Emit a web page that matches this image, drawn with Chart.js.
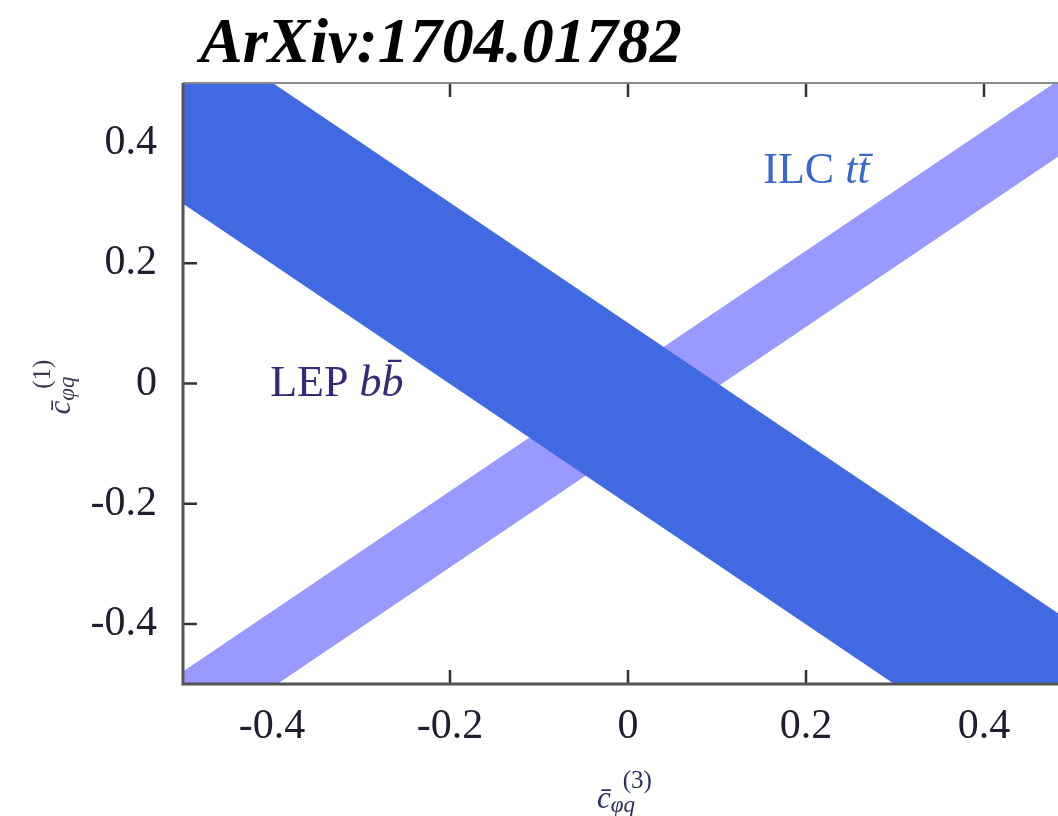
<!DOCTYPE html>
<html>
<head>
<meta charset="utf-8">
<script src="https://cdn.jsdelivr.net/npm/chart.js@4"></script>
<style>
  html, body { margin: 0; padding: 0; background: #fff; overflow: hidden; }
  #wrap { position: absolute; left: 0; top: 0; width: 1090px; height: 816px; }
</style>
</head>
<body>
<div id="wrap"><canvas id="chart" width="1090" height="816"></canvas></div>
<script>
// band edges at x = -0.5 and x = 0.5
const X_ENDS = [-0.5, 0.5];
const LEP_UPPER = [0.6, -0.4];
const LEP_LOWER = [0.3, -0.7];
const ILC_UPPER = [-0.48, 0.52];
const ILC_LOWER = [-0.605, 0.395];

const X_TICKS = [-0.4, -0.2, 0, 0.2, 0.4];
const X_TICK_LABELS = ['-0.4', '-0.2', '0', '0.2', '0.4'];
const Y_TICKS = [-0.4, -0.2, 0, 0.2, 0.4];
const Y_TICK_LABELS = ['-0.4', '-0.2', '0', '0.2', '0.4'];

const LEP_COLOR = '#4169e1';
const ILC_COLOR = '#9999ff';
const SERIF = '"Liberation Serif", "Times New Roman", serif';

function edge(ys) {
  return X_ENDS.map((x, i) => ({ x: x, y: ys[i] }));
}

function drawParts(ctx, x, y, parts) {
  ctx.textAlign = 'left';
  ctx.textBaseline = 'alphabetic';
  for (const p of parts) {
    ctx.font = p.font;
    ctx.fillStyle = p.color;
    ctx.fillText(p.text, x, y);
    x += ctx.measureText(p.text).width;
  }
}

// c-bar with sub phi q and a superscript, centred on cx
function drawCoeff(ctx, cx, base, sup, color) {
  ctx.textAlign = 'left';
  ctx.textBaseline = 'alphabetic';
  ctx.fillStyle = color;
  ctx.font = 'italic 31px ' + SERIF;
  const cW = ctx.measureText('c').width;
  ctx.font = 'italic 23px ' + SERIF;
  const subW = ctx.measureText('φq').width;
  const left = cx - (cW + subW) / 2;
  ctx.font = 'italic 31px ' + SERIF;
  ctx.fillText('c\u0304', left, base);
  ctx.font = '25px ' + SERIF;
  ctx.fillText(sup, left + cW + 12, base - 20);
  ctx.font = 'italic 23px ' + SERIF;
  ctx.fillText('φq', left + cW, base + 4);
}

const decorations = {
  id: 'decorations',
  beforeDatasetsDraw(chart) {
    // inward tick marks, hidden under the bands
    const { ctx, chartArea: a, scales } = chart;
    ctx.save();
    ctx.strokeStyle = '#333';
    ctx.lineWidth = 2.5;
    ctx.beginPath();
    for (const v of X_TICKS) {
      const px = scales.x.getPixelForValue(v);
      ctx.moveTo(px, a.bottom); ctx.lineTo(px, a.bottom - 14);
      ctx.moveTo(px, a.top); ctx.lineTo(px, a.top + 14);
    }
    for (const v of Y_TICKS) {
      const py = scales.y.getPixelForValue(v);
      ctx.moveTo(a.left, py); ctx.lineTo(a.left + 14, py);
      ctx.moveTo(a.right, py); ctx.lineTo(a.right - 14, py);
    }
    ctx.stroke();
    ctx.restore();
  },
  afterDatasetsDraw(chart) {
    const { ctx, chartArea: a, scales } = chart;
    ctx.save();
    // frame
    ctx.strokeStyle = '#8a8a8a';
    ctx.lineWidth = 2;
    ctx.beginPath();
    ctx.moveTo(a.left, a.top); ctx.lineTo(a.right, a.top); ctx.lineTo(a.right, a.bottom);
    ctx.stroke();
    ctx.strokeStyle = '#555';
    ctx.lineWidth = 3;
    ctx.beginPath();
    ctx.moveTo(a.left, a.top); ctx.lineTo(a.left, a.bottom); ctx.lineTo(a.right, a.bottom);
    ctx.stroke();

    // band labels
    drawParts(ctx, scales.x.getPixelForValue(-0.402), scales.y.getPixelForValue(-0.02), [
      { text: 'LEP ', font: '44px ' + SERIF, color: '#35297a' },
      { text: 'bb\u0304', font: 'italic 44px ' + SERIF, color: '#35297a' }
    ]);
    drawParts(ctx, scales.x.getPixelForValue(0.152), scales.y.getPixelForValue(0.333), [
      { text: 'ILC ', font: '44px ' + SERIF, color: '#3a68cc' },
      { text: 'tt\u0304', font: 'italic 44px ' + SERIF, color: '#3a68cc' }
    ]);

    // axis titles
    drawCoeff(ctx, scales.x.getPixelForValue(0) - 12, 808, '(3)', '#2b2f5c');
    ctx.translate(70, scales.y.getPixelForValue(0));
    ctx.rotate(-Math.PI / 2);
    drawCoeff(ctx, -12, 0, '(1)', '#3a3a52');
    ctx.restore();

    // header
    ctx.save();
    ctx.font = 'bold italic 64px ' + SERIF;
    ctx.fillStyle = '#000';
    ctx.textAlign = 'left';
    ctx.textBaseline = 'alphabetic';
    ctx.fillText('ArXiv:1704.01782', 200, 62);
    ctx.restore();
  }
};

const tickFont = { family: SERIF, size: 42 };

new Chart(document.getElementById('chart'), {
  type: 'line',
  data: {
    datasets: [
      { label: 'LEP upper', data: edge(LEP_UPPER), borderColor: LEP_COLOR, borderWidth: 1, pointRadius: 0, fill: false },
      { label: 'LEP b bbar', data: edge(LEP_LOWER), borderColor: LEP_COLOR, borderWidth: 1, pointRadius: 0,
        backgroundColor: LEP_COLOR, fill: '-1' },
      { label: 'ILC upper', data: edge(ILC_UPPER), borderColor: ILC_COLOR, borderWidth: 1, pointRadius: 0, fill: false },
      { label: 'ILC t tbar', data: edge(ILC_LOWER), borderColor: ILC_COLOR, borderWidth: 1, pointRadius: 0,
        backgroundColor: ILC_COLOR, fill: '-1' }
    ]
  },
  options: {
    responsive: false,
    animation: false,
    layout: { padding: { left: 0, top: 83, right: 17, bottom: 0 } },
    plugins: {
      legend: { display: false },
      tooltip: { enabled: false },
      title: { display: false }
    },
    scales: {
      x: {
        type: 'linear',
        min: -0.5,
        max: 0.5,
        grid: { display: false, drawTicks: false },
        border: { display: false },
        afterBuildTicks: (scale) => { scale.ticks = X_TICKS.map(v => ({ value: v })); },
        afterFit: (scale) => { scale.height = 132; },
        ticks: {
          font: tickFont,
          color: '#1e1e2e',
          padding: 18,
          maxRotation: 0,
          callback: (value, index) => X_TICK_LABELS[index]
        }
      },
      y: {
        type: 'linear',
        min: -0.5,
        max: 0.5,
        grid: { display: false, drawTicks: false },
        border: { display: false },
        afterBuildTicks: (scale) => { scale.ticks = Y_TICKS.map(v => ({ value: v })); },
        afterFit: (scale) => { scale.width = 183; },
        ticks: {
          font: tickFont,
          color: '#1e1e2e',
          padding: 26,
          callback: (value, index) => Y_TICK_LABELS[index]
        }
      }
    }
  },
  plugins: [decorations]
});
</script>
</body>
</html>
